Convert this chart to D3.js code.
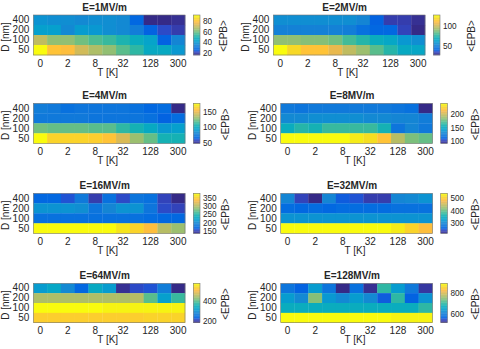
<!DOCTYPE html>
<html><head><meta charset="utf-8">
<script src="https://cdn.jsdelivr.net/npm/d3@7"></script>
<style>
body{margin:0;background:#fff}
svg{display:block}
text{font-family:"Liberation Sans",Arial,Helvetica,sans-serif;fill:#262626}
</style>
</head><body>
<svg id="chart" width="480" height="349"></svg>
<script>
// ---------- data ----------
const temps = ["0","1","2","4","8","16","32","64","128","256","300"];
const tempTicks = ["0","2","8","32","128","300"];
const depths = ["400","200","100","50"];
const fields = ["E=1MV/m","E=2MV/m","E=4MV/m","E=8MV/m","E=16MV/m","E=32MV/m","E=64MV/m","E=128MV/m"];

// rows follow depths (400, 200, 100, 50), columns follow temps
const epb1 = [
  [39,38,38,37,38,38,37,27,17,16,18],
  [42,42,37,41,40,38,37,33,26,22,20],
  [69,64,63,60,57,54,50,47,43,26,35],
  [91,80,79,72,67,64,58,53,46,46,40]];
const epb2 = [
  [57,57,57,56,56,56,54,41,33,33,30],
  [52,52,51,51,51,50,45,43,43,35,28],
  [90,90,89,88,86,79,74,69,65,60,57],
  [126,118,112,112,106,98,92,82,74,67,65]];
const epb4 = [
  [77,75,71,73,74,72,73,70,67,68,47],
  [76,76,75,75,74,74,73,72,70,64,68],
  [124,123,123,122,121,120,113,107,100,90,93],
  [180,167,167,166,165,160,147,133,123,107,107]];
const epb8 = [
  [122,120,121,122,122,123,122,121,120,117,90],
  [132,132,133,133,133,133,132,131,130,130,125],
  [154,163,158,166,166,166,166,158,120,128,123],
  [242,242,242,242,241,237,231,219,196,181,177]];
const epb16 = [
  [172,172,160,185,148,178,155,184,178,152,136],
  [208,208,208,206,184,196,208,208,184,155,153],
  [180,180,180,179,178,178,178,178,177,172,172],
  [376,376,376,376,376,376,364,352,335,304,292]];
const epb32 = [
  [300,244,222,300,259,253,241,238,300,306,316],
  [272,270,275,270,272,275,274,272,276,278,278],
  [316,316,316,316,316,316,316,316,318,318,318],
  [534,534,534,534,534,534,534,532,522,503,481]];
const epb64 = [
  [313,333,293,242,341,313,190,215,222,270,183],
  [451,451,451,451,451,451,451,459,400,321,380],
  [577,577,577,577,572,570,570,570,568,568,568],
  [530,530,530,530,530,532,532,532,534,536,536]];
const epb128 = [
  [595,569,644,595,520,587,531,707,644,602,535],
  [644,621,752,640,625,644,625,565,707,569,632],
  [677,677,677,677,677,677,677,677,677,677,707],
  [895,892,892,892,892,892,892,892,884,884,884]];

const cbTicks1 = [20,40,60,80];
const cbTicks2 = [50,100];
const cbTicks4 = [50,100,150];
const cbTicks8 = [100,150,200];
const cbTicks16 = [150,200,250,300,350];
const cbTicks32 = [300,400,500];
const cbTicks64 = [200,400];
const cbTicks128 = [600,800];

const panelValues = [epb1,epb2,epb4,epb8,epb16,epb32,epb64,epb128];
const panelTicks = [cbTicks1,cbTicks2,cbTicks4,cbTicks8,cbTicks16,cbTicks32,cbTicks64,cbTicks128];

// ---------- parula colormap (64) ----------
const PARULA = [
[0.2081,0.1663,0.5292],[0.2116,0.1898,0.5777],[0.2123,0.2138,0.6270],[0.2081,0.2386,0.6771],
[0.1959,0.2645,0.7279],[0.1707,0.2919,0.7792],[0.1253,0.3242,0.8303],[0.0591,0.3598,0.8683],
[0.0117,0.3875,0.8820],[0.0060,0.4086,0.8828],[0.0165,0.4266,0.8786],[0.0329,0.4430,0.8720],
[0.0498,0.4586,0.8641],[0.0629,0.4737,0.8554],[0.0723,0.4887,0.8467],[0.0779,0.5040,0.8384],
[0.0793,0.5200,0.8312],[0.0749,0.5375,0.8263],[0.0641,0.5570,0.8240],[0.0488,0.5772,0.8228],
[0.0343,0.5966,0.8199],[0.0265,0.6137,0.8135],[0.0239,0.6287,0.8038],[0.0231,0.6418,0.7913],
[0.0228,0.6535,0.7768],[0.0267,0.6642,0.7607],[0.0384,0.6743,0.7436],[0.0590,0.6838,0.7254],
[0.0843,0.6928,0.7062],[0.1133,0.7015,0.6859],[0.1453,0.7098,0.6646],[0.1801,0.7177,0.6424],
[0.2178,0.7250,0.6193],[0.2586,0.7317,0.5954],[0.3022,0.7376,0.5712],[0.3482,0.7424,0.5473],
[0.3953,0.7459,0.5244],[0.4420,0.7481,0.5033],[0.4871,0.7491,0.4840],[0.5300,0.7491,0.4661],
[0.5709,0.7485,0.4494],[0.6099,0.7473,0.4337],[0.6473,0.7456,0.4188],[0.6834,0.7435,0.4044],
[0.7184,0.7411,0.3905],[0.7525,0.7384,0.3768],[0.7858,0.7356,0.3633],[0.8185,0.7327,0.3498],
[0.8507,0.7299,0.3360],[0.8824,0.7274,0.3217],[0.9139,0.7258,0.3063],[0.9450,0.7261,0.2886],
[0.9739,0.7314,0.2666],[0.9938,0.7455,0.2403],[0.9990,0.7653,0.2164],[0.9955,0.7861,0.1967],
[0.9880,0.8066,0.1794],[0.9789,0.8271,0.1633],[0.9697,0.8481,0.1475],[0.9626,0.8705,0.1309],
[0.9589,0.8949,0.1132],[0.9598,0.9218,0.0948],[0.9661,0.9514,0.0755],[0.9763,0.9831,0.0538]
].map(c => d3.rgb(c[0]*255, c[1]*255, c[2]*255).formatHex());

// ---------- layout ----------
const svg = d3.select("#chart");
const W = 151.7;
const rowTops = [15, 103.3, 193.3, 283.3];
const rowH = [40, 40, 40, 39.4];
const FS = 10;
const CBFS = 8.2;
const FONT = '"Liberation Sans",Arial,sans-serif';

panelValues.forEach((vals, i) => {
  const col = i % 2, row = Math.floor(i / 2);
  const left = col === 0 ? 33.3 : (row === 0 ? 273.3 : 280.7);
  const top = rowTops[row], H = rowH[row];
  const flat = vals.flat();
  const [vmin, vmax] = d3.extent(flat);
  const colorIdx = v => Math.max(0, Math.min(63, Math.floor((v - vmin) / (vmax - vmin) * 64)));

  const x = d3.scaleBand().domain(temps).range([left, left + W]);
  const y = d3.scaleBand().domain(depths).range([top, top + H]);

  const g = svg.append("g");
  const cells = [];
  vals.forEach((r, ri) => r.forEach((v, ci) => cells.push({d: depths[ri], t: temps[ci], v})));
  g.selectAll("rect.cell").data(cells).join("rect")
    .attr("class","cell")
    .attr("x", d => x(d.t)).attr("y", d => y(d.d))
    .attr("width", x.bandwidth() + 0.3).attr("height", y.bandwidth() + 0.3)
    .attr("fill", d => PARULA[colorIdx(d.v)]);
  g.append("rect").attr("x", left).attr("y", top).attr("width", W).attr("height", H)
    .attr("fill","none").attr("stroke","#777").attr("stroke-width",0.6);

  // x axis
  const xa = g.append("g").attr("transform", `translate(0,${top + H})`)
    .call(d3.axisBottom(x).tickValues(tempTicks).tickSize(0).tickPadding(0));
  xa.select(".domain").remove();
  xa.selectAll("text").attr("dy", null).attr("y", 11.7).attr("font-size", FS)
    .style("font-family", FONT).attr("fill","#262626");

  // y axis
  const ya = g.append("g").attr("transform", `translate(${left},0)`)
    .call(d3.axisLeft(y).tickSize(0).tickPadding(4));
  ya.select(".domain").remove();
  ya.selectAll("text").attr("font-size", FS)
    .style("font-family", FONT).attr("fill","#262626");

  // title
  g.append("text").attr("x", left + W / 2 - 4.5).attr("y", top - 4.5)
    .attr("text-anchor","middle").attr("font-size", FS).attr("font-weight","bold")
    .text(fields[i]);
  // x label
  g.append("text").attr("x", left + W / 2 - 1.5).attr("y", top + H + 20.5)
    .attr("text-anchor","middle").attr("font-size", FS).text("T [K]");
  // y label
  const ylx = left - 24.5, yly = top + H / 2 + 2;
  g.append("text").attr("transform", `translate(${ylx},${yly}) rotate(-90)`)
    .attr("text-anchor","middle").attr("font-size", FS).text("D [nm]");

  // colorbar
  const cbx = left + W + 8.3, cbw = 6.7;
  const cs = d3.scaleLinear().domain([vmin, vmax]).range([top + H, top]);
  const bins = d3.range(64);
  const bh = H / 64;
  g.selectAll("rect.cb").data(bins).join("rect").attr("class","cb")
    .attr("x", cbx).attr("width", cbw)
    .attr("y", k => top + H - (k + 1) * bh).attr("height", bh + 0.2)
    .attr("fill", k => PARULA[k]);
  g.append("rect").attr("x", cbx).attr("y", top).attr("width", cbw).attr("height", H)
    .attr("fill","none").attr("stroke","#777").attr("stroke-width",0.6);
  const ca = g.append("g").attr("transform", `translate(${cbx + cbw},0)`)
    .call(d3.axisRight(cs).tickValues(panelTicks[i]).tickSize(0).tickPadding(3).tickFormat(d3.format("d")));
  ca.select(".domain").remove();
  ca.selectAll("text").attr("font-size", CBFS)
    .style("font-family", FONT).attr("fill","#262626");

  let lblX = col === 0 ? 227 : (row === 0 ? 475 : 478.5);
  if (col === 0 && row >= 1) lblX = 229;
  g.append("text").attr("transform", `translate(${lblX},${top + H / 2 + 1}) rotate(-90)`)
    .attr("text-anchor","middle").attr("font-size", FS).text("<EPB>");
});
</script>
</body></html>
